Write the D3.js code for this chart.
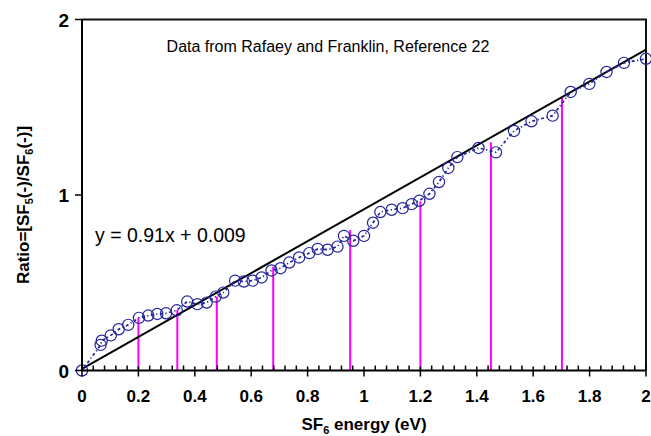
<!DOCTYPE html>
<html><head><meta charset="utf-8">
<script src="https://cdn.jsdelivr.net/npm/d3@7"></script>
<style>body{margin:0;background:#fff}svg{display:block}text{font-family:"Liberation Sans",Arial,sans-serif}</style>
</head><body><svg id="c" width="651" height="436"></svg>
<script>
// Data
const energy = [0,0.066,0.07,0.102,0.13,0.164,0.202,0.235,0.267,0.298,0.336,0.373,0.409,0.442,0.474,0.501,0.543,0.574,0.605,0.637,0.672,0.704,0.735,0.770,0.806,0.836,0.871,0.906,0.929,0.962,1.0,1.032,1.058,1.098,1.137,1.169,1.196,1.232,1.266,1.299,1.331,1.406,1.468,1.532,1.594,1.669,1.733,1.799,1.860,1.922,2.0];
const ratio = [0,0.146,0.17,0.20,0.235,0.26,0.30,0.313,0.322,0.326,0.343,0.393,0.378,0.387,0.421,0.444,0.512,0.507,0.512,0.530,0.570,0.583,0.615,0.644,0.669,0.693,0.688,0.706,0.767,0.739,0.767,0.842,0.903,0.916,0.925,0.948,0.967,1.007,1.074,1.154,1.216,1.268,1.243,1.365,1.420,1.452,1.587,1.633,1.701,1.753,1.776];
const markerX = [0.2,0.338,0.478,0.678,0.951,1.2,1.45,1.702];
const markerTop = [0.301,0.345,0.421,0.592,0.80,0.963,1.30,1.559];
const fitSlope = 0.91, fitIntercept = 0.009;
const xTicks = [0,0.2,0.4,0.6,0.8,1,1.2,1.4,1.6,1.8,2];
const xTickLabels = ["0","0.2","0.4","0.6","0.8","1","1.2","1.4","1.6","1.8","2"];
const yTicks = [0,1,2];
const yTickLabels = ["0","1","2"];
const annotation = "Data from Rafaey and Franklin, Reference 22";
const equation = "y = 0.91x + 0.009";

const svg = d3.select("#c");
const x = d3.scaleLinear().domain([0,2]).range([82,646]);
const y = d3.scaleLinear().domain([0,2]).range([370.5,19.5]);

// frame top/right
svg.append("path").attr("d",`M${x(0)},${y(2)}H${x(2)}V${y(0)}`).attr("fill","none").attr("stroke","#111").attr("stroke-width",2);

// magenta markers
svg.selectAll(".mk").data(markerX).enter().append("line")
  .attr("x1",d=>x(d)).attr("x2",d=>x(d)).attr("y1",y(0)).attr("y2",(d,i)=>y(markerTop[i]))
  .attr("stroke","#ff00ff").attr("stroke-width",2);

// fit line
svg.append("line").attr("x1",x(0)).attr("y1",y(fitIntercept)).attr("x2",x(2)).attr("y2",y(fitSlope*2+fitIntercept))
  .attr("stroke","#000").attr("stroke-width",2);

// data line
const blue = "#23239c";
svg.append("path").datum(energy.map((e,i)=>[e,ratio[i]]))
  .attr("d",d3.line().x(d=>x(d[0])).y(d=>y(d[1])))
  .attr("fill","none").attr("stroke",blue).attr("stroke-width",1.7).attr("stroke-dasharray","3,2.5,1.2,2.5");
svg.selectAll(".pt").data(energy).enter().append("circle")
  .attr("cx",d=>x(d)).attr("cy",(d,i)=>y(ratio[i])).attr("r",5.6)
  .attr("fill","none").attr("stroke",blue).attr("stroke-width",1.2);

// x axis
const minor = d3.range(0,2.0001,0.04).filter(v=>Math.abs(v/0.2-Math.round(v/0.2))>1e-6);
svg.selectAll(".mn").data(minor).enter().append("line")
  .attr("x1",d=>x(d)).attr("x2",d=>x(d)).attr("y1",y(0)).attr("y2",y(0)-5)
  .attr("stroke","#000").attr("stroke-width",1.5);
svg.selectAll(".mj").data(xTicks).enter().append("line")
  .attr("x1",d=>x(d)).attr("x2",d=>x(d)).attr("y1",y(0)-4).attr("y2",y(0)+6)
  .attr("stroke","#000").attr("stroke-width",1.5);
svg.append("line").attr("x1",x(0)).attr("x2",x(2)).attr("y1",y(0)).attr("y2",y(0)).attr("stroke","#000").attr("stroke-width",2);
svg.selectAll(".xl").data(xTicks).enter().append("text")
  .attr("x",d=>x(d)).attr("y",402).attr("text-anchor","middle")
  .attr("font-size",17).attr("font-weight","bold").text((d,i)=>xTickLabels[i]);

// y axis
svg.append("line").attr("x1",x(0)).attr("x2",x(0)).attr("y1",y(0)).attr("y2",y(2)).attr("stroke","#000").attr("stroke-width",2);
svg.selectAll(".yt").data(yTicks).enter().append("line")
  .attr("x1",x(0)-7).attr("x2",x(0)).attr("y1",d=>y(d)).attr("y2",d=>y(d)).attr("stroke","#000").attr("stroke-width",1.5);
svg.selectAll(".yl").data(yTicks).enter().append("text")
  .attr("x",69).attr("y",d=>y(d)+7).attr("text-anchor","end")
  .attr("font-size",19).attr("font-weight","bold").text((d,i)=>yTickLabels[i]);

// axis titles
const xt = svg.append("text").attr("x",364).attr("y",430).attr("text-anchor","middle").attr("font-size",17).attr("font-weight","bold");
xt.append("tspan").text("SF");
xt.append("tspan").attr("font-size",11).attr("dy",4).text("6");
xt.append("tspan").attr("dy",-4).text(" energy (eV)");

const yt = svg.append("text").attr("transform","translate(29,205) rotate(-90)").attr("text-anchor","middle").attr("font-size",17).attr("font-weight","bold");
yt.append("tspan").text("Ratio=[SF");
yt.append("tspan").attr("font-size",11).attr("dy",4).text("5");
yt.append("tspan").attr("dy",-4).text("(-)/SF");
yt.append("tspan").attr("font-size",11).attr("dy",4).text("6");
yt.append("tspan").attr("dy",-4).text("(-)]");

// annotations
svg.append("text").attr("x",328).attr("y",52).attr("text-anchor","middle").attr("font-size",16).text(annotation);
svg.append("text").attr("x",95).attr("y",242).attr("font-size",19.5).text(equation);
</script></body></html>
